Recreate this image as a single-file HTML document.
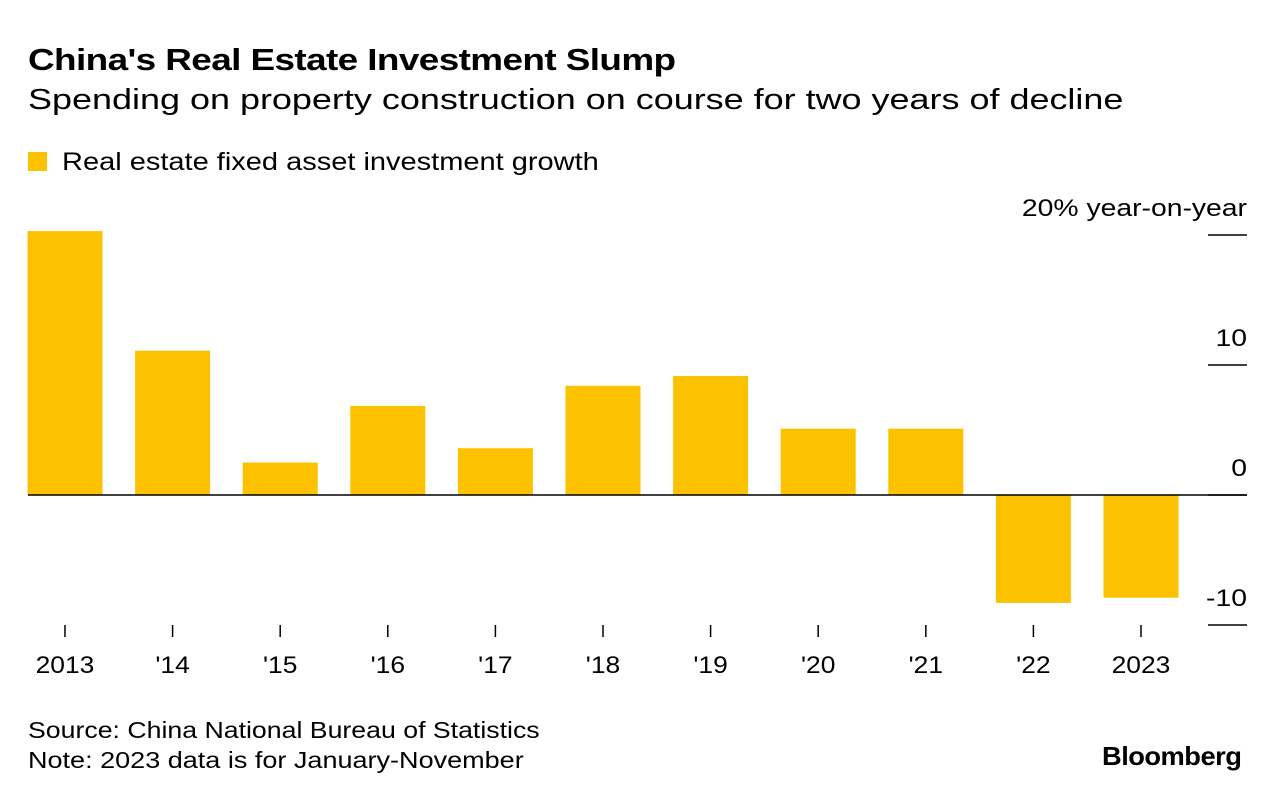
<!DOCTYPE html>
<html><head><meta charset="utf-8"><style>
body{margin:0;width:1280px;height:800px;background:#fff;font-family:"Liberation Sans",sans-serif;color:#000;position:relative;overflow:hidden}
.t{position:absolute;white-space:nowrap;transform-origin:0 0}
</style></head><body>
<div class="t" style="left:28px;top:42px;font-size:31px;font-weight:bold;letter-spacing:-0.5px;transform:scaleX(1.19)">China's Real Estate Investment Slump</div>
<div class="t" style="left:28px;top:84px;font-size:29px;transform:scaleX(1.24)">Spending on property construction on course for two years of decline</div>
<div class="t" style="left:28px;top:152px;width:19px;height:19px;background:#fcc200"></div>
<div class="t" style="left:62px;top:148px;font-size:25px;transform:scaleX(1.16)">Real estate fixed asset investment growth</div>
<svg id="chart" width="1280" height="800" style="position:absolute;left:0;top:0"></svg>
<div class="t" style="left:28px;top:717px;font-size:23px;transform:scaleX(1.16)">Source: China National Bureau of Statistics</div>
<div class="t" style="left:28px;top:747px;font-size:23px;transform:scaleX(1.175)">Note: 2023 data is for January-November</div>
<div class="t" style="left:1102px;top:741px;font-size:26px;font-weight:bold;letter-spacing:-0.5px;transform:scaleX(1.05)">Bloomberg</div>
<script>
const categories=["2013","'14","'15","'16","'17","'18","'19","'20","'21","'22","2023"];
const values=[20.3,11.1,2.5,6.85,3.6,8.4,9.15,5.1,5.1,-8.3,-7.9];
const tickValues=[20,10,0,-10];
const tickLabels=["20% year-on-year","10","0","-10"];
const svg=document.getElementById('chart');
const NS='http://www.w3.org/2000/svg';
const y=v=>495-v*13;
const x=i=>65+i*107.6;
function mk(tag,attrs){const e=document.createElementNS(NS,tag);for(const k in attrs)e.setAttribute(k,attrs[k]);svg.appendChild(e);return e;}
function widen(t,f){const w=t.getComputedTextLength();t.setAttribute('textLength',w*f);t.setAttribute('lengthAdjust','spacingAndGlyphs');}
tickValues.forEach((v,i)=>{
 const l=mk('line',{x1:1208,x2:1247,y1:y(v),y2:y(v),stroke:'#000','stroke-width':1.5});
 
 
 const t=mk('text',{x:1247,y:y(v)-19,'text-anchor':'end','font-size':24,'font-family':'Liberation Sans, sans-serif'});
 t.textContent=tickLabels[i];
 
 
 widen(t,1.18);
});
values.forEach((v,i)=>{
 const top=Math.min(y(v),y(0)),h=Math.abs(y(v)-y(0));
 const r=mk('rect',{x:x(i)-37.5,y:top,width:75,height:h,fill:'#fcc200'});
 
 
 const tk=mk('line',{x1:x(i),x2:x(i),y1:625,y2:637,stroke:'#000','stroke-width':1.5});
 
 
 const t=mk('text',{x:x(i),y:673,'text-anchor':'middle','font-size':24,'font-family':'Liberation Sans, sans-serif'});
 t.textContent=categories[i];
 
 
 widen(t,1.1);
});
const z=mk('line',{x1:28,x2:1247,y1:y(0),y2:y(0),stroke:'#000','stroke-width':1.5});


</script>
</body></html>
